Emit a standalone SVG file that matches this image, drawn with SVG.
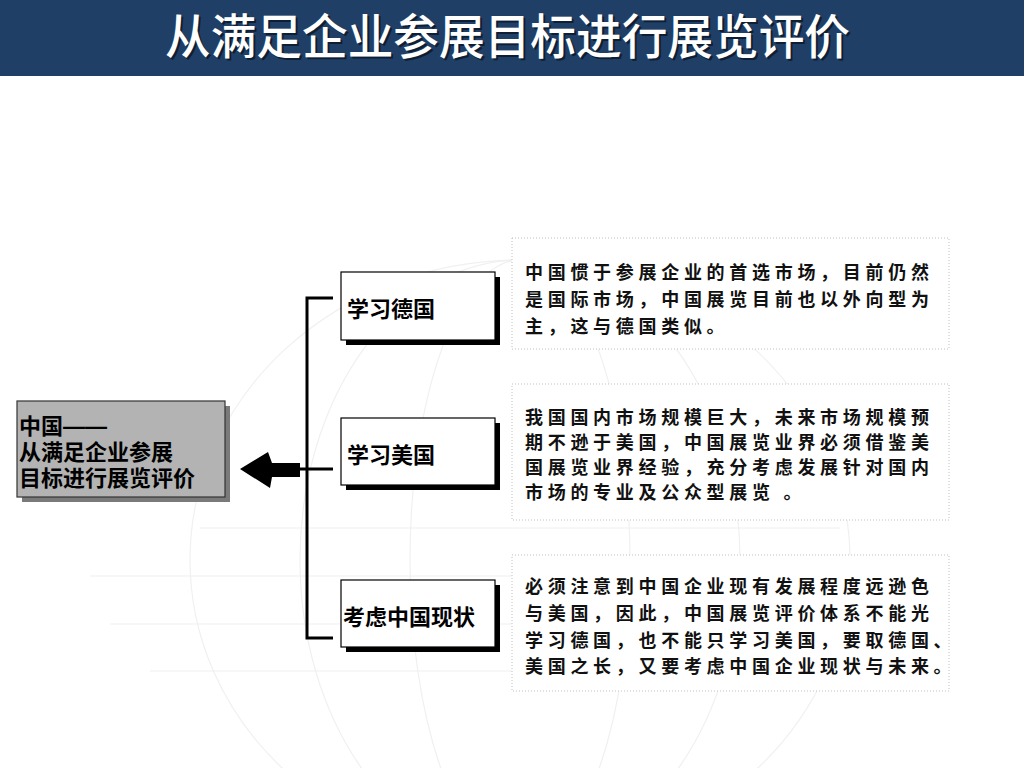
<svg xmlns="http://www.w3.org/2000/svg" width="1024" height="768" viewBox="0 0 1024 768">
<style>
.cjk{font-family:"Noto Sans CJK SC","Noto Sans CJK JP",sans-serif;}
.cjk2{font-family:"Liberation Sans","Noto Sans CJK SC","Noto Sans CJK JP",sans-serif;}
.title{font-size:48px;font-weight:500;fill:#FFFFFF;}
.tshadow{font-size:48px;font-weight:500;fill:#0E1E33;}
.lbl{font-size:22px;font-weight:bold;fill:#000000;}
.body{font-size:18px;font-weight:bold;fill:#111111;letter-spacing:4.7px;}
.node{fill:#FFFFFF;stroke:#000000;stroke-width:1.2;}
.shadow{fill:#000000;}
.note{fill:#FFFFFF;stroke:#C0C0C0;stroke-width:1;stroke-dasharray:1 2;}
.conn{fill:none;stroke:#000000;stroke-width:3;}
.bg{fill:none;stroke:#F0F0F0;stroke-width:1.2;}
</style>
<rect x="0" y="0" width="1024" height="768" fill="#FFFFFF"/>
<g id="background">
<line class="bg" x1="90" y1="576" x2="930" y2="576"/>
<line class="bg" x1="110" y1="624" x2="910" y2="624"/>
<line class="bg" x1="150" y1="671" x2="870" y2="671"/>
<line class="bg" x1="200" y1="528" x2="840" y2="528"/>
<ellipse class="bg" cx="520" cy="560" rx="330" ry="300"/>
<ellipse class="bg" cx="520" cy="560" rx="220" ry="300"/>
<ellipse class="bg" cx="520" cy="560" rx="110" ry="300"/>
</g>
<g id="header">
<rect x="0" y="0" width="1024" height="76" fill="#203F66"/>
<text class="cjk tshadow" x="167" y="56" textLength="685" lengthAdjust="spacingAndGlyphs">从满足企业参展目标进行展览评价</text>
<text class="cjk title" x="165" y="54" textLength="685" lengthAdjust="spacingAndGlyphs">从满足企业参展目标进行展览评价</text>
</g>
<g id="connectors">
<polyline class="conn" points="333,298 307,298 307,638 333,638"/>
<line class="conn" x1="298" y1="469" x2="333" y2="469"/>
<polygon points="240,469 268,452 272,463 300,463 300,477 272,477 270,488" fill="#000000"/>
</g>
<g id="main">
<rect x="22" y="406" width="208" height="96" fill="#7A7A7A"/>
<rect x="17" y="401" width="208" height="96" fill="#B3B3B3" stroke="#333333" stroke-width="1.2"/>
<text class="cjk2 lbl" x="19" y="434">中国——</text>
<text class="cjk2 lbl" x="19" y="460">从满足企业参展</text>
<text class="cjk2 lbl" x="19" y="486">目标进行展览评价</text>
</g>
<g id="node-germany">
<rect class="shadow" x="346" y="277" width="154" height="68"/>
<rect class="node" x="341" y="272" width="154" height="68"/>
<text class="cjk lbl" x="347" y="317">学习德国</text>
</g>
<g id="node-usa">
<rect class="shadow" x="346" y="423" width="154" height="67"/>
<rect class="node" x="341" y="418" width="154" height="67"/>
<text class="cjk lbl" x="347" y="463">学习美国</text>
</g>
<g id="node-china">
<rect class="shadow" x="346" y="585" width="154" height="67"/>
<rect class="node" x="341" y="580" width="154" height="67"/>
<text class="cjk lbl" x="343" y="625">考虑中国现状</text>
</g>
<g id="note-germany">
<rect class="note" x="512" y="238" width="437" height="111"/>
<text class="cjk body" x="525" y="279">中国惯于参展企业的首选市场，目前仍然</text>
<text class="cjk body" x="525" y="306">是国际市场，中国展览目前也以外向型为</text>
<text class="cjk body" x="525" y="333">主，这与德国类似。</text>
</g>
<g id="note-usa">
<rect class="note" x="512" y="384" width="437" height="136"/>
<text class="cjk body" x="525" y="424">我国国内市场规模巨大，未来市场规模预</text>
<text class="cjk body" x="525" y="449">期不逊于美国，中国展览业界必须借鉴美</text>
<text class="cjk body" x="525" y="474">国展览业界经验，充分考虑发展针对国内</text>
<text class="cjk body" x="525" y="499">市场的专业及公众型展览 。</text>
</g>
<g id="note-china">
<rect class="note" x="512" y="555" width="437" height="136"/>
<text class="cjk body" x="525" y="593">必须注意到中国企业现有发展程度远逊色</text>
<text class="cjk body" x="525" y="620">与美国，因此，中国展览评价体系不能光</text>
<text class="cjk body" x="525" y="647">学习德国，也不能只学习美国，要取德国、</text>
<text class="cjk body" x="525" y="673">美国之长，又要考虑中国企业现状与未来。</text>
</g>
</svg>
